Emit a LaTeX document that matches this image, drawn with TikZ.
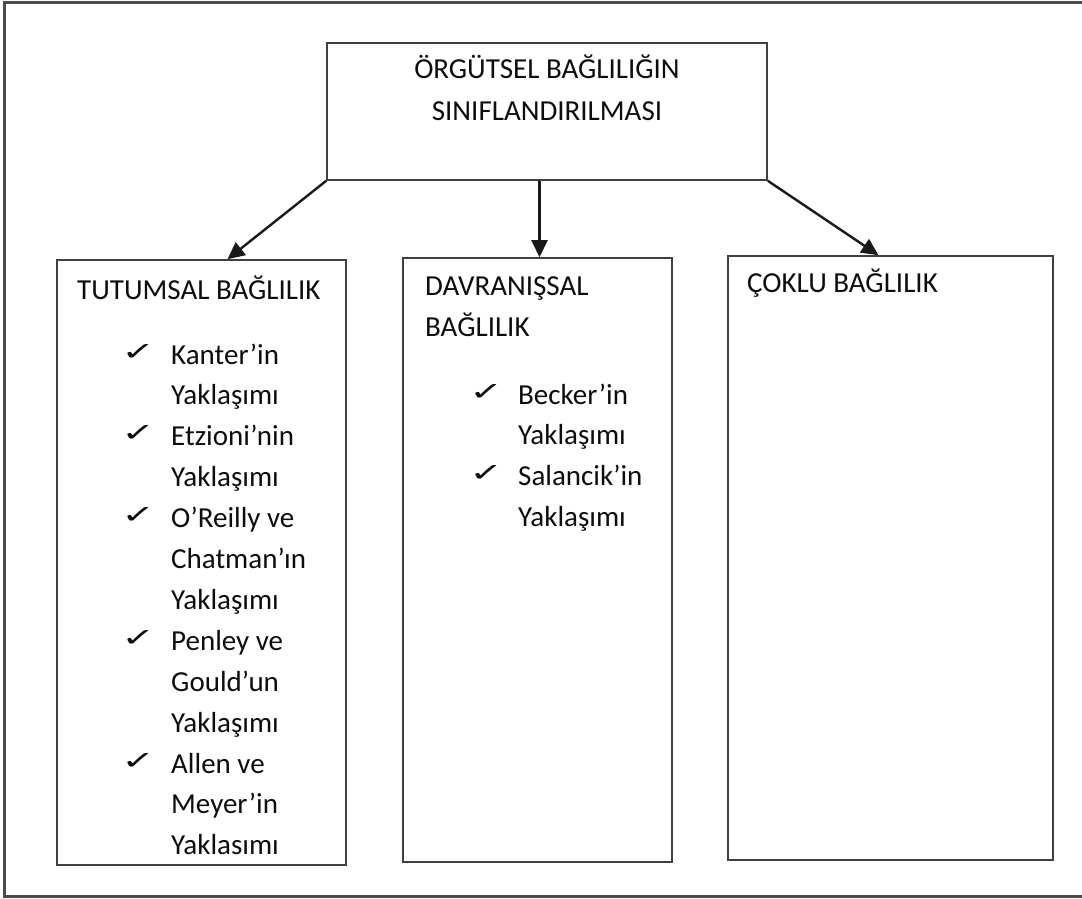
\documentclass[tikz,border=0pt]{standalone}
\usepackage{fontspec}
\setmainfont{Carlito}
\newfontfamily\checkfont{DejaVu Sans}
\usetikzlibrary{arrows.meta}
\begin{document}
\begin{tikzpicture}[x=1pt,y=-1pt,
  box/.style={draw=black!75,line width=1.6pt,rectangle,inner sep=0pt},
  frame/.style={draw=black!70,line width=3pt},
  arr/.style={draw=black!90,line width=2.4pt,-{Triangle[length=17pt,width=16pt]}},
  txt/.style={anchor=base west,inner sep=0pt,font=\fontsize{29}{41}\selectfont,text=black!95},
  ctxt/.style={anchor=base,inner sep=0pt,font=\fontsize{29}{41}\selectfont,text=black!95},
  chk/.style={anchor=base west,inner sep=0pt,font=\checkfont\fontsize{30}{34}\selectfont,text=black!95,xscale=1.35,yscale=0.85}]
\useasboundingbox (0,0) rectangle (1082,898);
% outer frame
\draw[frame] (1095,2) -- (4,2) -- (4,896) -- (1095,896);
% boxes
\node[box,minimum width=440pt,minimum height=137pt] (top) at (547,111.5) {};
\node[box,minimum width=289pt,minimum height=605pt] (left) at (201.5,562.5) {};
\node[box,minimum width=269pt,minimum height=604pt] (mid) at (537.5,560) {};
\node[box,minimum width=325pt,minimum height=604pt] (right) at (890.5,558) {};
% top text
\node[ctxt] (t1) at (547,78) {ÖRGÜTSEL BAĞLILIĞIN};
\node[ctxt] (t2) at (547,120) {SINIFLANDIRILMASI};
% arrows
\draw[arr] (top.south west) -- ([xshift=26pt]left.north);
\draw[arr] ([xshift=2pt]mid.north |- top.south) -- ([xshift=2pt]mid.north);
\draw[arr] (top.south east) -- ([xshift=-12pt]right.north);
% left box
\node[txt] (lh) at (77,299) {TUTUMSAL BAĞLILIK};
\foreach \i/\s in {0/Kanter’in,1/Yaklaşımı,2/Etzioni’nin,3/Yaklaşımı,4/O’Reilly ve,5/Chatman’ın,6/Yaklaşımı,7/Penley ve,8/Gould’un,9/Yaklaşımı,10/Allen ve,11/Meyer’in,12/Yaklasımı}
  \node[txt] (l\i) at (171,{364+40.9*\i}) {\s};
\foreach \i in {0,2,4,7,10}
  \node[chk,transform shape] (lc\i) at (121,{360+40.9*\i}) {✓};
% middle box
\node[txt] (mh1) at (425,295) {DAVRANIŞSAL};
\node[txt] (mh2) at (425,336) {BAĞLILIK};
\foreach \i/\s in {0/Becker’in,1/Yaklaşımı,2/Salancik’in,3/Yaklaşımı}
  \node[txt] (m\i) at (518,{404+40.7*\i}) {\s};
\foreach \i in {0,2}
  \node[chk,transform shape] (mc\i) at (469,{400+40.7*\i}) {✓};
% right box
\node[txt] (rh) at (747,292) {ÇOKLU BAĞLILIK};
\end{tikzpicture}
\end{document}
